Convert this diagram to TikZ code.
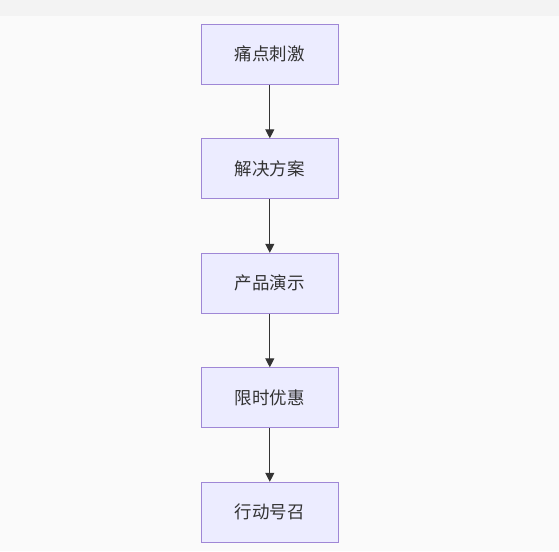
\documentclass[tikz,border=0pt]{standalone}
\usepackage{fontspec}
\newfontfamily\cjk{Noto Sans CJK SC}
\usetikzlibrary{arrows.meta}
\definecolor{boxfill}{HTML}{ECECFF}
\definecolor{boxline}{HTML}{9F87D6}
\definecolor{ink}{HTML}{333333}
\definecolor{bgc}{HTML}{FAFAFA}
\definecolor{band}{HTML}{F3F3F3}
\tikzset{
  flowbox/.style={draw=boxline, fill=boxfill, line width=1pt, minimum width=137pt, minimum height=60pt, inner sep=0pt, font=\cjk\fontsize{17.5pt}{20pt}\selectfont, text=ink},
  flowarrow/.style={draw=ink, line width=1.2pt, -{Triangle[length=9pt,width=9pt]}}
}
\begin{document}
\begin{tikzpicture}[x=1pt,y=-1pt]
\fill[bgc] (0,0) rectangle (559,551);
\fill[band] (0,0) rectangle (559,16);
\useasboundingbox (0,0) rectangle (559,551);
\node[flowbox] (a) at (269.8,54.3) {痛点刺激};
\node[flowbox] (b) at (269.8,168.8) {解决方案};
\node[flowbox] (c) at (269.8,283.3) {产品演示};
\node[flowbox] (d) at (269.8,397.8) {限时优惠};
\node[flowbox] (e) at (269.8,512.3) {行动号召};
\draw[flowarrow] (a) -- (b);
\draw[flowarrow] (b) -- (c);
\draw[flowarrow] (c) -- (d);
\draw[flowarrow] (d) -- (e);
\end{tikzpicture}
\end{document}
